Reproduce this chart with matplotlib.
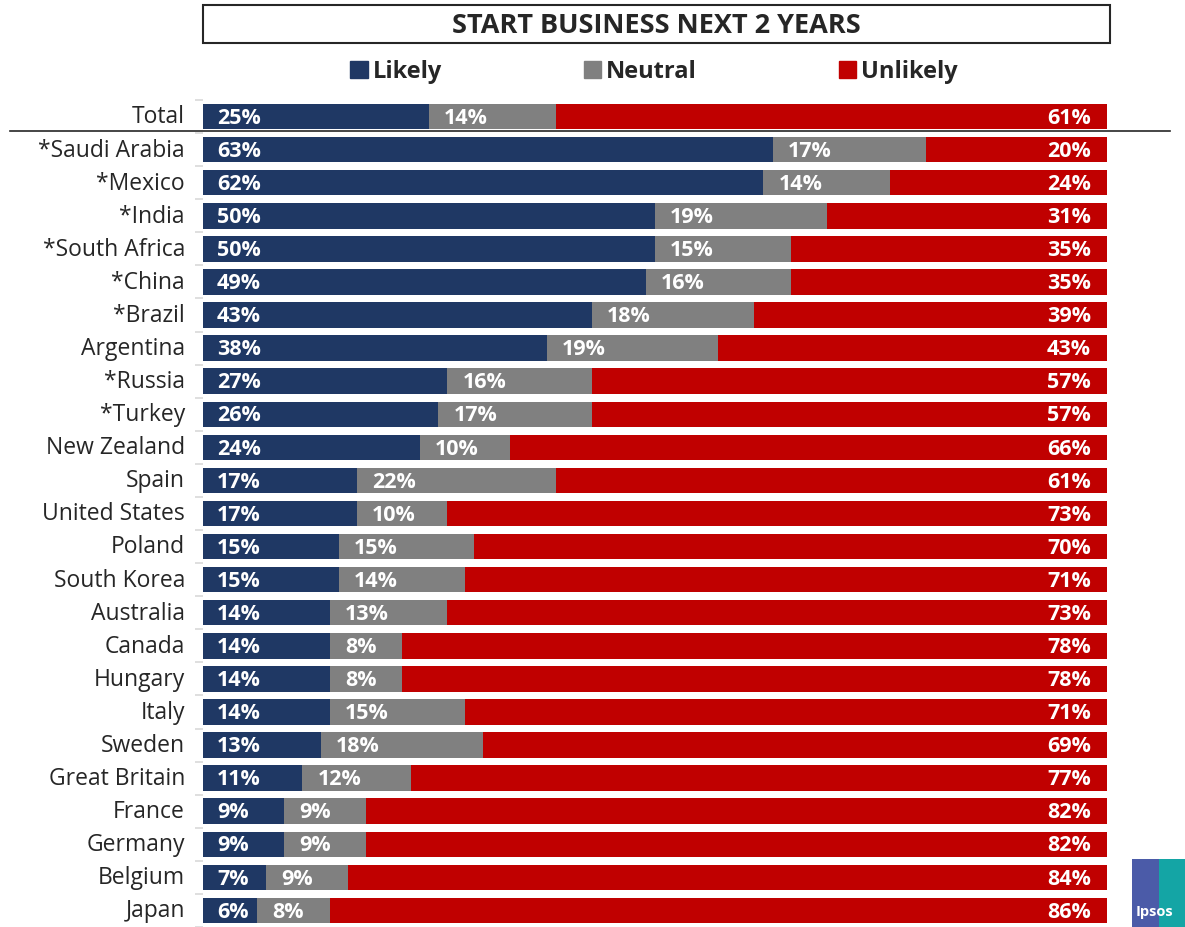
import matplotlib
matplotlib.use("Agg")
import matplotlib.pyplot as plt
from matplotlib.patches import Rectangle
from matplotlib.lines import Line2D
import matplotlib.transforms as mtransforms

categories = ["Total", "*Saudi Arabia", "*Mexico", "*India", "*South Africa", "*China",
              "*Brazil", "Argentina", "*Russia", "*Turkey", "New Zealand", "Spain",
              "United States", "Poland", "South Korea", "Australia", "Canada", "Hungary",
              "Italy", "Sweden", "Great Britain", "France", "Germany", "Belgium", "Japan"]
likely = [25, 63, 62, 50, 50, 49, 43, 38, 27, 26, 24, 17, 17, 15, 15, 14, 14, 14, 14, 13, 11, 9, 9, 7, 6]
neutral = [14, 17, 14, 19, 15, 16, 18, 19, 16, 17, 10, 22, 10, 15, 14, 13, 8, 8, 15, 18, 12, 9, 9, 9, 8]
unlikely = [61, 20, 24, 31, 35, 35, 39, 43, 57, 57, 66, 61, 73, 70, 71, 73, 78, 78, 71, 69, 77, 82, 82, 84, 86]
series_names = ["Likely", "Neutral", "Unlikely"]
colors = ["#1F3864", "#808080", "#C00000"]
title = "START BUSINESS NEXT 2 YEARS"

W, H = 1185, 927
fig = plt.figure(figsize=(W / 100, H / 100), dpi=100)
FONT = ["Open Sans", "DejaVu Sans"]

# axes geometry (pixels)
x0, x1 = 203, 1107
row0, step = 115.5, 34.83
top_px, bot_px = 100, 927
ymin = (top_px - row0) / step
ymax = (bot_px - row0) / step
ax = fig.add_axes([x0 / W, 1 - bot_px / H, (x1 - x0) / W, (bot_px - top_px) / H])

n = len(categories)
ypos = list(range(n))
bh = 0.77
ax.barh(ypos, likely, height=bh, color=colors[0], label=series_names[0])
ax.barh(ypos, neutral, left=likely, height=bh, color=colors[1], label=series_names[1])
lefts2 = [a + b for a, b in zip(likely, neutral)]
ax.barh(ypos, unlikely, left=lefts2, height=bh, color=colors[2], label=series_names[2])

lab_kw = dict(color="white", fontweight="bold", fontsize=15.5, va="center",
              family=FONT, textcoords="offset points")
for i in range(n):
    ax.annotate(f"{likely[i]}%", (0, i), xytext=(10, -1.2), ha="left", **lab_kw)
    ax.annotate(f"{neutral[i]}%", (likely[i], i), xytext=(11, -1.2), ha="left", **lab_kw)
    ax.annotate(f"{unlikely[i]}%", (lefts2[i] + unlikely[i], i), xytext=(-11.5, -1.2),
                ha="right", **lab_kw)

ax.set_xlim(0, 100)
ax.set_ylim(ymax, ymin)
ax.set_yticks(ypos)
ax.set_yticklabels(categories, fontsize=16.5, color="#262626", family=FONT)
ax.tick_params(axis="y", length=0, pad=13)
shift = mtransforms.ScaledTranslation(0, 1.5 / 72, fig.dpi_scale_trans)
for lbl in ax.get_yticklabels():
    lbl.set_transform(lbl.get_transform() + shift)
ax.set_yticks([i + 0.5 for i in range(-1, n)], minor=True)
ax.tick_params(axis="y", which="minor", length=6, color="#D9D9D9", width=1.2)
ax.set_xticks([])
for s in ["top", "right", "bottom", "left"]:
    ax.spines[s].set_visible(False)

# separator line below Total
trans = mtransforms.blended_transform_factory(fig.transFigure, ax.transData)
fig.add_artist(Line2D([10 / W, 1170 / W], [0.45, 0.45], transform=trans,
                      color="#262626", lw=1.2))

# title box
fig.add_artist(Rectangle((203 / W, 1 - 43 / H), (1110 - 203) / W, (43 - 5) / H,
                         transform=fig.transFigure, facecolor="white",
                         edgecolor="#262626", lw=1.5))
fig.text((203 + 1110) / 2 / W, 1 - 26 / H, title, ha="center", va="center",
         fontsize=19.5, fontweight="bold", color="#262626", family=FONT)

# legend
leg = fig.legend(handles=[Rectangle((0, 0), 1, 1, color=c) for c in colors],
                 labels=series_names, loc="center", bbox_to_anchor=(654 / W, 1 - 72 / H),
                 ncol=3, frameon=False, handlelength=0.75, handleheight=0.75,
                 handletextpad=0.2, columnspacing=6.0,
                 prop={"family": FONT, "weight": "bold", "size": 17})
for t in leg.get_texts():
    t.set_color("#262626")

# Ipsos logo
fig.add_artist(Rectangle((1132 / W, 0), 27 / W, 68 / H, transform=fig.transFigure,
                         facecolor="#4B5BA8", edgecolor="none"))
fig.add_artist(Rectangle((1159 / W, 0), 26 / W, 68 / H, transform=fig.transFigure,
                         facecolor="#14A5A5", edgecolor="none"))
fig.text(1136 / W, 1 - 912 / H, "Ipsos", color="white", fontsize=10.5, fontweight="bold",
         ha="left", va="center", family=FONT)

fig.savefig("out.png", dpi=100)
